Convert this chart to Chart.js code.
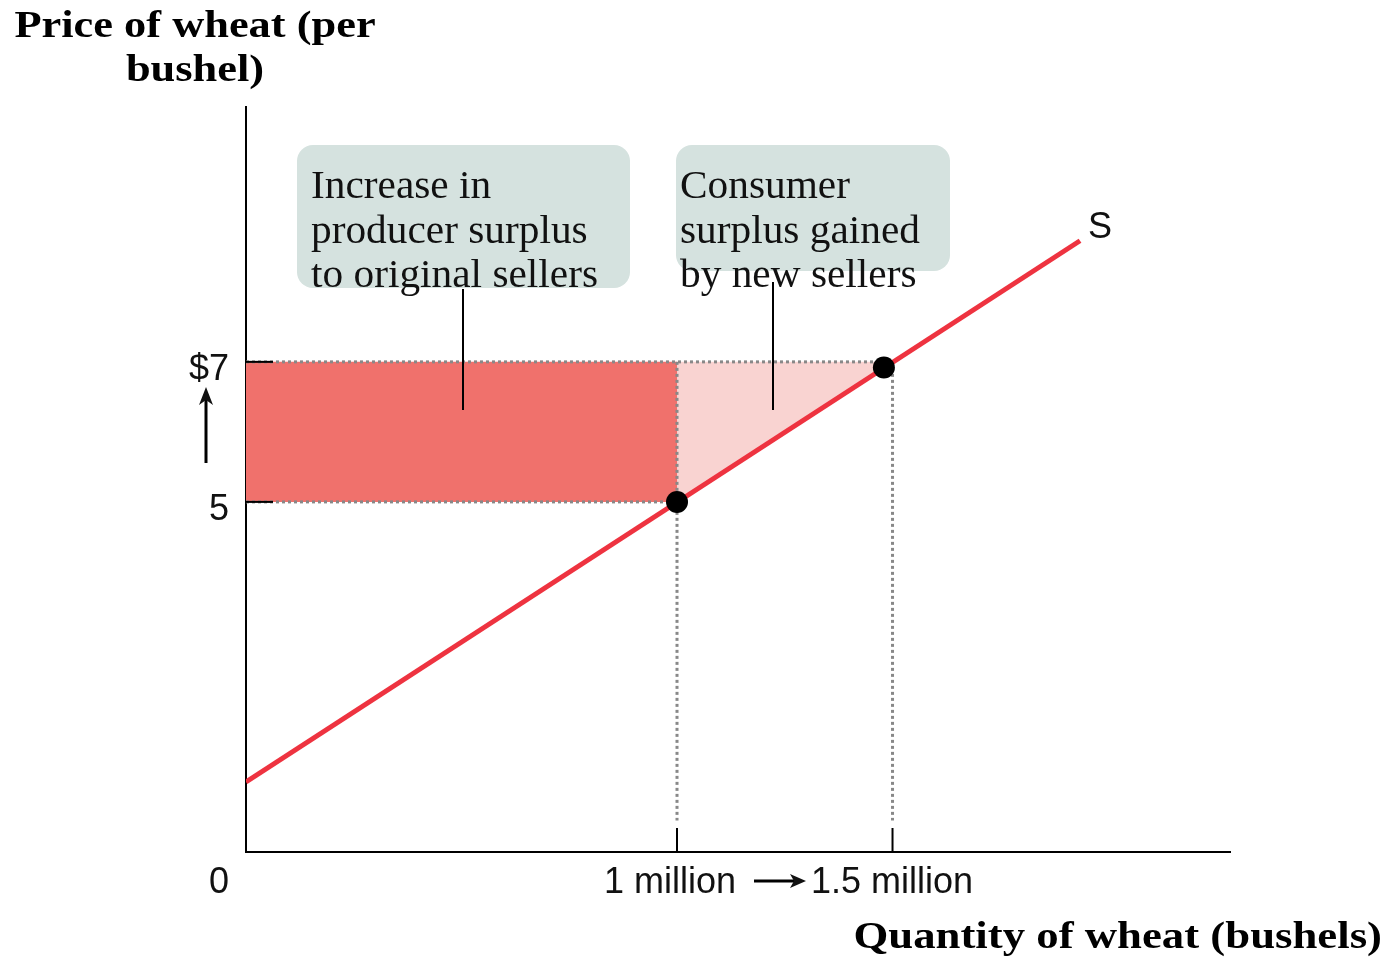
<!DOCTYPE html>
<html lang="en">
<head>
<meta charset="UTF-8">
<title>Price of wheat</title>
<script src="https://cdn.jsdelivr.net/npm/chart.js"></script>
<style>
  html, body { margin: 0; padding: 0; background: #fff; }
  #wrap { width: 1388px; height: 957px; }
</style>
</head>
<body>
<div id="wrap"><canvas id="chart" width="1388" height="957"></canvas></div>
<script>
// supply curve S (quantity in millions, price in $)
const supplyX = [0, 1.935];
const supplyY = [1, 8.73];
// equilibrium points before / after (dots sit on S)
const eqX = [1, 1.48];
const eqY = [5, 6.92];
// tick labels
const xTicks = [1, 1.5];
const xTickLabels = ['1 million', '1.5 million'];
const yTicks = [5, 7];
const yTickLabels = ['5', '$7'];
// shaded regions
const rectX = [0, 1, 1, 0, 0];
const rectY = [5, 5, 7, 7, 5];
const triX = [1, 1.5, 1, 1];
const triY = [5, 7, 7, 5];

const pts = (xs, ys) => xs.map((x, i) => ({ x: x, y: ys[i] }));

const dotted = (data) => ({
  type: 'line', data: data, showLine: true, fill: false,
  borderColor: '#888', borderWidth: 3, borderDash: [3, 3],
  pointRadius: 0, order: 5
});

// serif text in the reference is wider than Liberation Serif, stretch it a bit
function wideText(ctx, text, x, y, sx) {
  ctx.save();
  ctx.translate(x, y);
  ctx.scale(sx, 1);
  ctx.fillText(text, 0, 0);
  ctx.restore();
}

const annotations = {
  id: 'annotations',
  afterDraw(chart) {
    const ctx = chart.ctx;
    const xs = chart.scales.x, ys = chart.scales.y;
    const area = chart.chartArea;
    ctx.save();

    // tick marks inside the plot
    ctx.strokeStyle = '#000';
    ctx.lineWidth = 2;
    yTicks.forEach(v => {
      const py = ys.getPixelForValue(v);
      ctx.beginPath(); ctx.moveTo(area.left, py); ctx.lineTo(area.left + 27, py); ctx.stroke();
    });
    xTicks.forEach(v => {
      const px = xs.getPixelForValue(v);
      ctx.beginPath(); ctx.moveTo(px, area.bottom); ctx.lineTo(px, area.bottom - 24); ctx.stroke();
    });

    // tick labels
    ctx.fillStyle = '#111';
    ctx.font = '36px "Liberation Sans", Arial, sans-serif';
    ctx.textBaseline = 'middle';
    ctx.textAlign = 'right';
    yTicks.forEach((v, i) => ctx.fillText(yTickLabels[i], 229, ys.getPixelForValue(v) + 8));
    ctx.fillText('0', 229, 883);
    ctx.textAlign = 'center';
    ctx.fillText(xTickLabels[0], xs.getPixelForValue(xTicks[0]) - 7, 883);
    ctx.textAlign = 'left';
    ctx.fillText(xTickLabels[1], 811, 883);

    // arrows
    ctx.lineWidth = 3;
    ctx.beginPath(); ctx.moveTo(754, 881); ctx.lineTo(795, 881); ctx.stroke();
    ctx.beginPath(); ctx.moveTo(806, 881); ctx.lineTo(790, 874); ctx.lineTo(794, 881); ctx.lineTo(790, 888); ctx.closePath(); ctx.fill();
    ctx.beginPath(); ctx.moveTo(206, 463); ctx.lineTo(206, 398); ctx.stroke();
    ctx.beginPath(); ctx.moveTo(206, 387); ctx.lineTo(199, 405); ctx.lineTo(206, 400); ctx.lineTo(213, 405); ctx.closePath(); ctx.fill();

    // S label
    ctx.fillText('S', 1088, 228);

    // callout boxes
    const box = (x, y, w, h) => {
      ctx.fillStyle = '#d5e2df';
      ctx.beginPath(); ctx.roundRect(x, y, w, h, 16); ctx.fill();
    };
    box(297, 145, 333, 143);
    box(676, 145, 274, 126);

    ctx.strokeStyle = '#000';
    ctx.lineWidth = 2;
    ctx.beginPath(); ctx.moveTo(463, 289); ctx.lineTo(463, 410); ctx.stroke();
    ctx.beginPath(); ctx.moveTo(773, 282); ctx.lineTo(773, 410); ctx.stroke();

    ctx.fillStyle = '#111';
    ctx.font = '39px "Liberation Serif", Georgia, serif';
    ctx.textAlign = 'left';
    ctx.textBaseline = 'alphabetic';
    ['Increase in', 'producer surplus', 'to original sellers'].forEach((t, i) => wideText(ctx, t, 311, 198 + i * 44.5, 1.06));
    ['Consumer', 'surplus gained', 'by new sellers'].forEach((t, i) => wideText(ctx, t, 680, 198 + i * 44.5, 1.06));

    // axis titles
    ctx.fillStyle = '#000';
    ctx.font = 'bold 37px "Liberation Serif", Georgia, serif';
    ctx.textAlign = 'center';
    wideText(ctx, 'Price of wheat (per', 195, 37, 1.2);
    wideText(ctx, 'bushel)', 195, 81, 1.2);
    ctx.textAlign = 'right';
    wideText(ctx, 'Quantity of wheat (bushels)', 1382, 948, 1.21);

    ctx.restore();
  }
};

new Chart(document.getElementById('chart'), {
  type: 'scatter',
  data: {
    datasets: [
      {
        type: 'line', data: pts(eqX, eqY), showLine: false,
        pointRadius: 11, pointBackgroundColor: '#000', pointBorderWidth: 0, order: 0
      },
      {
        type: 'line', data: pts(supplyX, supplyY), showLine: true, fill: false,
        borderColor: '#ee3340', borderWidth: 5, pointRadius: 0, order: 1
      },
      dotted(pts([0, 1.5], [7, 7])),
      dotted(pts([0, 1], [5, 5])),
      dotted(pts([1, 1], [7, 0.45])),
      dotted(pts([1.5, 1.5], [7, 0.45])),
      {
        type: 'line', data: pts(rectX, rectY), showLine: true, fill: 'shape',
        backgroundColor: '#f0716c', borderWidth: 0, pointRadius: 0, order: 8
      },
      {
        type: 'line', data: pts(triX, triY), showLine: true, fill: 'shape',
        backgroundColor: '#f9d3d1', borderWidth: 0, pointRadius: 0, order: 9
      }
    ]
  },
  options: {
    responsive: false,
    animation: false,
    events: [],
    layout: { padding: { left: 238, top: 107, right: 158, bottom: 97 } },
    plugins: { legend: { display: false }, tooltip: { enabled: false } },
    scales: {
      x: {
        type: 'linear', min: 0, max: 2.283,
        grid: { display: false },
        ticks: { display: false },
        border: { display: true, color: '#000', width: 2 }
      },
      y: {
        type: 'linear', min: 0, max: 10.64,
        grid: { display: false },
        ticks: { display: false },
        border: { display: true, color: '#000', width: 2 }
      }
    }
  },
  plugins: [annotations]
});
</script>
</body>
</html>
